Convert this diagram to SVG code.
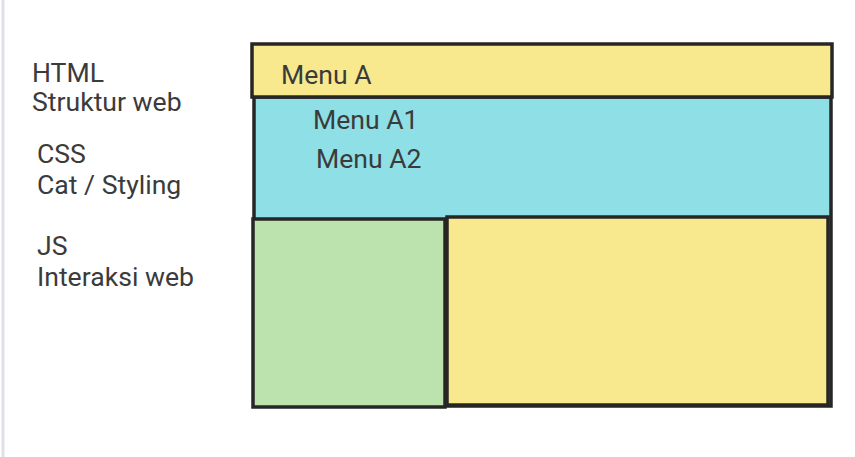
<svg xmlns="http://www.w3.org/2000/svg" width="855" height="457" viewBox="0 0 855 457">
<style>
.t{font-family:Roboto,"Liberation Sans",sans-serif;font-size:26.6px;fill:#3b3b3b}
.b{stroke:#262626;stroke-width:3.5}
</style>
<rect width="855" height="457" fill="#ffffff"/>
<line x1="3" y1="0" x2="3" y2="457" stroke="#dfe1e7" stroke-width="3"/>
<g id="labels">
<text class="t" x="32" y="82">HTML</text>
<text class="t" x="32" y="111">Struktur web</text>
<text class="t" x="37" y="163">CSS</text>
<text class="t" x="37" y="194">Cat / Styling</text>
<text class="t" x="37" y="255">JS</text>
<text class="t" x="37" y="286">Interaksi web</text>
</g>
<g id="submenu">
<rect class="b" x="254" y="97" width="577" height="309" fill="#8ee0e6"/>
<text class="t" x="313" y="129">Menu A1</text>
<text class="t" x="316" y="168">Menu A2</text>
</g>
<g id="menuA">
<rect class="b" x="252" y="44" width="580" height="53" fill="#f8e98f"/>
<text class="t" x="281" y="84">Menu A</text>
</g>
<g id="sidebar">
<rect class="b" x="253" y="219" width="192" height="188" fill="#bce2ad"/>
</g>
<g id="content">
<rect class="b" x="447" y="217" width="381" height="188" fill="#f8e98f"/>
</g>
<g id="connectors"></g>
</svg>
